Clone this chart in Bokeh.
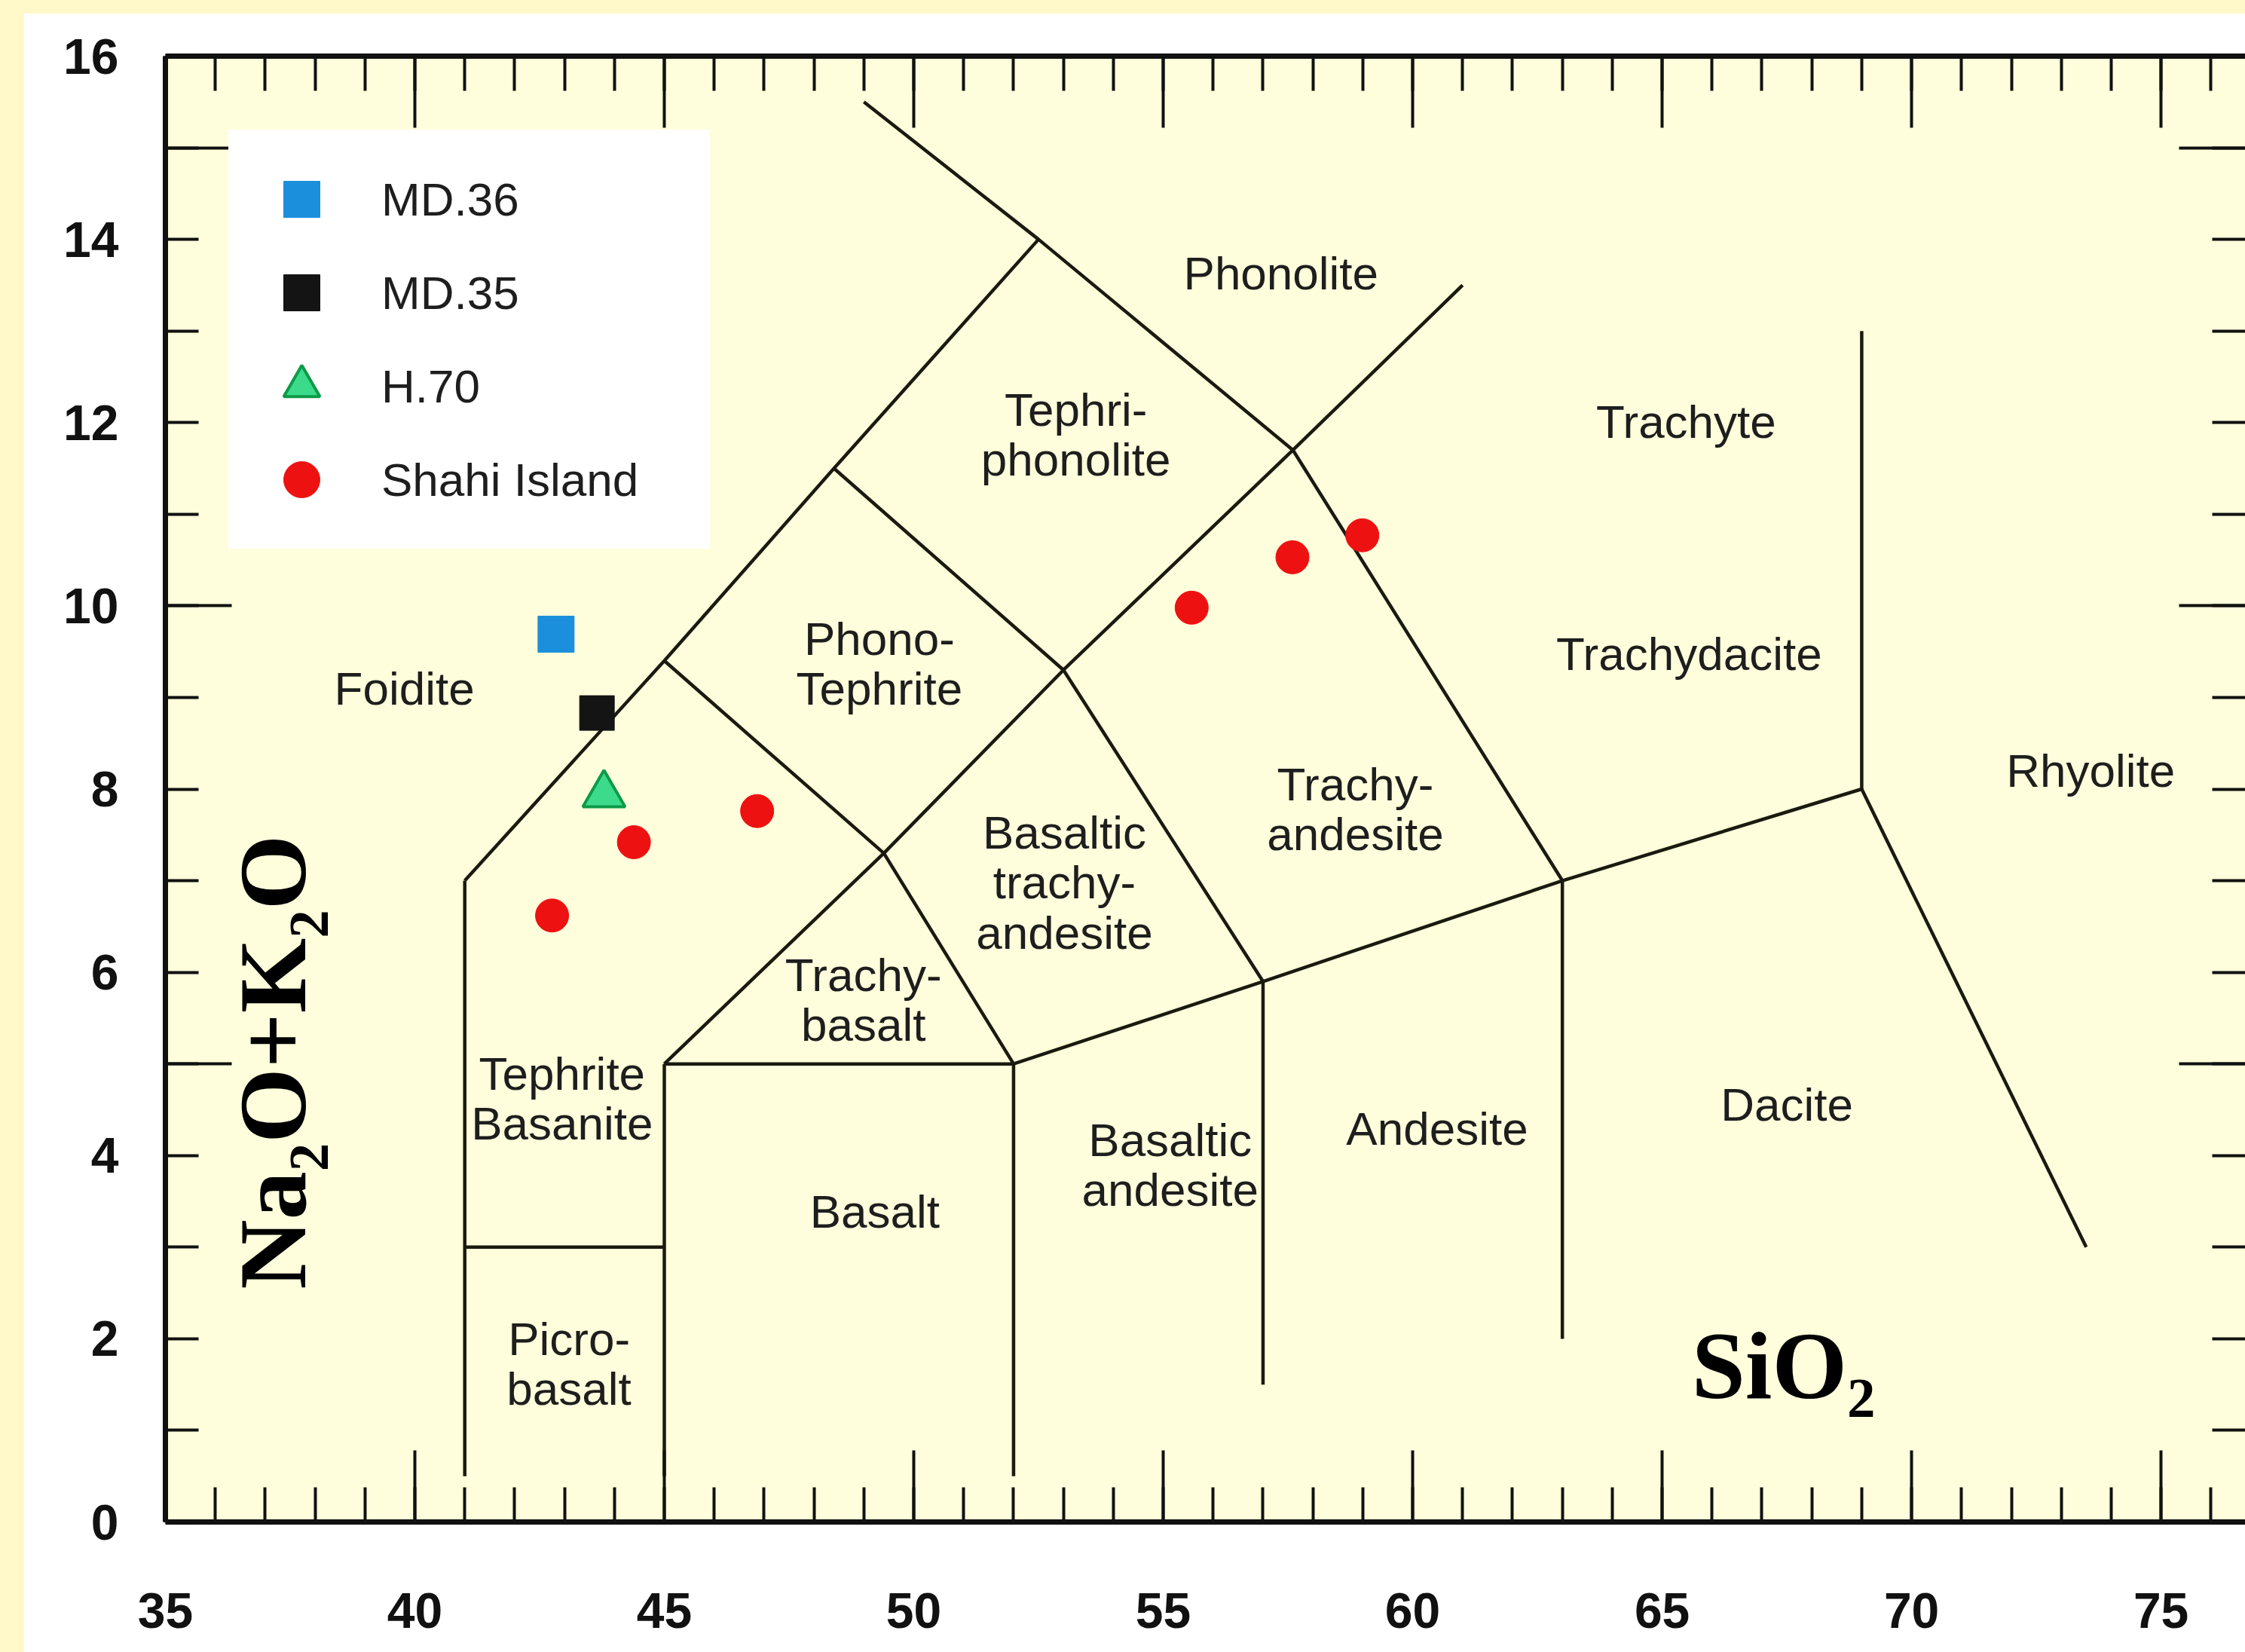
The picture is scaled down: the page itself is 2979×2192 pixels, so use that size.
from bokeh.plotting import figure
from bokeh.models import (Range1d, LinearAxis, FixedTicker, ColumnDataSource, Legend,
                          LegendItem, Label, CustomJSTickFormatter)
from bokeh.core.properties import value
from bokeh.embed import file_html
from bokeh.resources import INLINE

# ---------------- data ----------------
md36_x = [42.83]
md36_y = [9.69]
md35_x = [43.65]
md35_y = [8.83]
h70_x = [43.79]
h70_y = [7.94]
shahi_x = [42.75, 44.39, 46.86, 55.57, 57.59, 58.99]
shahi_y = [6.62, 7.42, 7.76, 9.98, 10.53, 10.77]

series_names = ["MD.36", "MD.35", "H.70", "Shahi Island"]

x_major = [35, 40, 45, 50, 55, 60, 65, 70, 75]
x_minor = list(range(35, 77))
y_labels = [0, 2, 4, 6, 8, 10, 12, 14, 16]
y_major = [5, 10, 15]
y_minor = list(range(0, 17))

# TAS field boundaries (SiO2, Na2O+K2O)
bound_x = [
    [41, 41], [41, 45], [45, 45], [45, 52], [52, 52],
    [52, 57, 63, 69], [57, 57], [63, 63], [69, 69], [69, 73.5],
    [41, 45, 48.4, 52.5], [45, 49.4, 52], [45, 49.4, 53, 57.6, 61],
    [48.4, 53, 57], [49, 52.5, 57.6, 63],
]
bound_y = [
    [0.5, 7], [3, 3], [0.5, 5], [5, 5], [0.5, 5],
    [5, 5.9, 7, 8], [1.5, 5.9], [2, 7], [8, 13], [8, 3],
    [7, 9.4, 11.5, 14], [9.4, 7.3, 5], [5, 7.3, 9.3, 11.7, 13.5],
    [11.5, 9.3, 5.9], [15.5, 14, 11.7, 7],
]

field_names = ["Phonolite", "Tephri-\nphonolite", "Trachyte", "Phono-\nTephrite", "Foidite",
               "Trachydacite", "Trachy-\nandesite", "Rhyolite", "Basaltic\ntrachy-\nandesite",
               "Trachy-\nbasalt", "Tephrite\nBasanite", "Basaltic\nandesite", "Andesite",
               "Dacite", "Basalt", "Picro-\nbasalt"]
field_x = [57.36, 53.25, 65.48, 49.31, 39.79, 65.54, 58.85, 73.59, 53.02,
           48.99, 42.95, 55.14, 60.49, 67.50, 49.22, 43.09]
field_y = [13.63, 11.87, 12.01, 9.37, 9.10, 9.48, 7.78, 8.20, 6.98,
           5.70, 4.62, 3.90, 4.29, 4.56, 3.39, 1.73]

# ---------------- figure ----------------
W, H = 2979, 2192
p = figure(width=W, height=H, output_backend="svg", toolbar_location=None,
           x_range=Range1d(35, 76.69), y_range=Range1d(0, 16),
           x_axis_location=None, y_axis_location=None,
           min_border_left=219, min_border_right=0, min_border_top=74, min_border_bottom=173)
p.grid.visible = False
p.outline_line_color = None
p.background_fill_color = "#FFFEDC"
p.border_fill_color = None
p.styles = {"background": "linear-gradient(to right, #FFF8C8 0px, #FFF8C8 32px, "
                          "rgba(255,255,255,0) 32px), "
                          "linear-gradient(to bottom, #FFF8C8 0px, #FFF8C8 18px, "
                          "#FFFFFF 18px)"}

AX = "#111111"


def tick_axis(ticks, minor, major_len, minor_len, line=True):
    return LinearAxis(ticker=FixedTicker(ticks=ticks, minor_ticks=minor),
                      formatter=CustomJSTickFormatter(code="return ''"),
                      major_tick_in=major_len, major_tick_out=0,
                      minor_tick_in=minor_len, minor_tick_out=0,
                      major_tick_line_width=4, minor_tick_line_width=4,
                      major_tick_line_color=AX, minor_tick_line_color=AX,
                      axis_line_width=7, axis_line_color=AX if line else None,
                      major_label_text_font_size="0px", major_label_standoff=0)


# bottom axis (with labels)
xb = LinearAxis(ticker=FixedTicker(ticks=x_major, minor_ticks=x_minor),
                major_tick_in=95, major_tick_out=0, minor_tick_in=46, minor_tick_out=0,
                major_tick_line_width=4, minor_tick_line_width=4,
                major_tick_line_color=AX, minor_tick_line_color=AX,
                axis_line_width=7, axis_line_color=AX,
                major_label_text_font="Liberation Sans", major_label_text_font_style="bold",
                major_label_text_font_size="66px", major_label_text_color=AX,
                major_label_standoff=94)
p.add_layout(xb, "below")
p.add_layout(tick_axis(x_major, x_minor, 95, 46), "above")

# left: tick marks axis (inner) + labels axis (outer)
p.add_layout(tick_axis(y_major, y_minor, 88, 44), "left")
yl = LinearAxis(ticker=FixedTicker(ticks=y_labels, minor_ticks=[]),
                major_tick_in=0, major_tick_out=0, minor_tick_in=0, minor_tick_out=0,
                axis_line_color=None, major_tick_line_color=None, minor_tick_line_color=None,
                major_label_text_font="Liberation Sans", major_label_text_font_style="bold",
                major_label_text_font_size="66px", major_label_text_color=AX,
                major_label_standoff=62)
p.add_layout(yl, "left")
p.add_layout(tick_axis(y_major, y_minor, 88, 44, line=False), "right")

# field boundaries
p.multi_line(xs=bound_x, ys=bound_y, line_color="#1a1a10", line_width=4.5)

# field names
fsrc = ColumnDataSource(dict(x=field_x, y=field_y, t=field_names))
p.text(x="x", y="y", text="t", source=fsrc, text_font=value("Liberation Sans"),
       text_font_size=value("62px"), text_align="center", text_baseline="middle",
       text_line_height=0.96, text_color="#1e1e1e")

# data points
r1 = p.scatter(md36_x, md36_y, marker="square", size=48, fill_color="#1B8FDB",
               line_color="#1B8FDB")
r2 = p.scatter(md35_x, md35_y, marker="square", size=46, fill_color="#141414",
               line_color="#141414")
r3 = p.scatter(h70_x, h70_y, marker="triangle", size=56, fill_color="#3CDB8C",
               line_color="#0E9A48", line_width=4)
r4 = p.scatter(shahi_x, shahi_y, marker="circle", size=44, fill_color="#EE1111",
               line_color="#EE1111")

legend = Legend(items=[LegendItem(label=n, renderers=[r]) for n, r in
                       zip(series_names, [r1, r2, r3, r4])],
                location=(84, 1291), margin=0, padding=31, spacing=4,
                glyph_width=130, glyph_height=120, label_height=120,
                label_standoff=41, label_width=404,
                label_text_font="Liberation Sans", label_text_font_size="62px",
                label_text_color="#1e1e1e",
                background_fill_color="white", background_fill_alpha=1,
                border_line_color="white", border_line_width=1)
p.add_layout(legend)

# axis titles drawn inside the frame (bold serif, with subscripts)
SERIF = "Liberation Serif"
big, small = 128, 75
ytitle = [("Na", big, 0, 0.0), ("2", small, 48, 156.4), ("O+K", big, 0, 193.9),
          ("2", small, 48, 466.0), ("O", big, 0, 503.5)]
for txt, fs, dx, off in ytitle:
    p.add_layout(Label(x=37.16, y=2.54, x_offset=dx, y_offset=off, text=txt, angle=90,
                       angle_units="deg", text_font=SERIF, text_font_style="bold",
                       text_font_size=f"{fs}px", text_color="black",
                       text_align="left", text_baseline="alphabetic"))
xtitle = [("SiO", big, 0, 0.0), ("2", small, -44, 206.3)]
for txt, fs, dy, off in xtitle:
    p.add_layout(Label(x=65.59, y=1.71, x_offset=off, y_offset=dy, text=txt,
                       text_font=SERIF, text_font_style="bold",
                       text_font_size=f"{fs}px", text_color="black",
                       text_align="left", text_baseline="alphabetic"))

open("out.html", "w").write(file_html(p, INLINE))
